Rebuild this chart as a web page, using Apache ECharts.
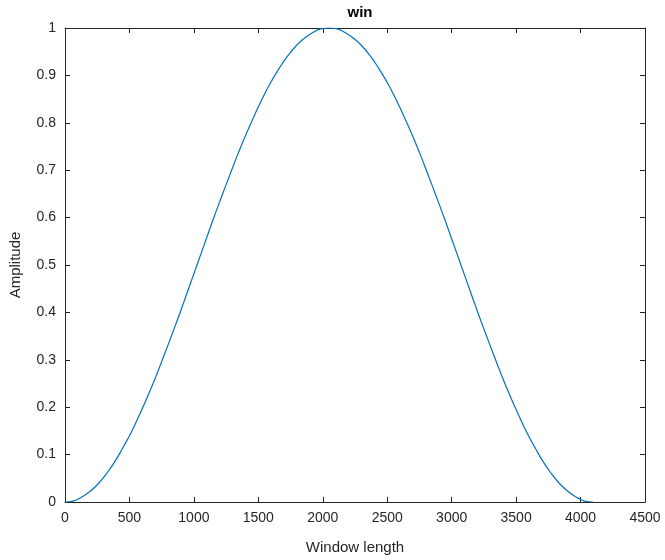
<!DOCTYPE html>
<html>
<head>
<meta charset="utf-8">
<script src="https://cdn.jsdelivr.net/npm/echarts@6/dist/echarts.min.js"></script>
<style>
  html, body { margin: 0; padding: 0; background: #fff; }
  #chart { width: 665px; height: 560px; }
</style>
</head>
<body>
<div id="chart"></div>
<script>
// window samples (every 64 points, rising half then falling half)
const samplePos = [0, 64, 128, 192, 256, 320, 384, 448, 512, 576, 640, 704, 768, 832, 896, 960,
  1024, 1088, 1152, 1216, 1280, 1344, 1408, 1472, 1536, 1600, 1664, 1728, 1792, 1856, 1920, 1984,
  2048, 2112, 2176, 2240, 2304, 2368, 2432, 2496, 2560, 2624, 2688, 2752, 2816, 2880, 2944, 3008,
  3072, 3136, 3200, 3264, 3328, 3392, 3456, 3520, 3584, 3648, 3712, 3776, 3840, 3904, 3968, 4032, 4096];
const amplitude = [0, 0.002, 0.01, 0.022, 0.038, 0.059, 0.084, 0.114, 0.146, 0.183, 0.222, 0.264, 0.309, 0.355, 0.402, 0.451,
  0.5, 0.549, 0.598, 0.645, 0.691, 0.736, 0.778, 0.817, 0.854, 0.887, 0.916, 0.941, 0.962, 0.978, 0.99, 0.998,
  1, 0.998, 0.99, 0.978, 0.962, 0.941, 0.916, 0.887, 0.854, 0.817, 0.778, 0.736, 0.691, 0.645, 0.598, 0.549,
  0.5, 0.451, 0.402, 0.355, 0.309, 0.264, 0.222, 0.183, 0.146, 0.114, 0.084, 0.059, 0.038, 0.022, 0.01, 0.002, 0];
const xTicks = [0, 500, 1000, 1500, 2000, 2500, 3000, 3500, 4000, 4500];
const yTicks = [0, 0.1, 0.2, 0.3, 0.4, 0.5, 0.6, 0.7, 0.8, 0.9, 1];

const axisColor = '#262626';
const font = 'Liberation Sans, Arial, sans-serif';

const lineData = [];
for (let i = 0; i < samplePos.length; i++) {
  lineData.push([samplePos[i], amplitude[i]]);
}

const baseAxis = {
  type: 'value',
  axisLine: { show: true, onZero: false, lineStyle: { color: axisColor, width: 1 } },
  axisTick: { show: true, inside: true, length: 5, lineStyle: { color: axisColor } },
  splitLine: { show: false }
};

const myChart = echarts.init(document.getElementById('chart'));
const option = {
  animation: false,
  title: {
    text: 'win',
    left: 355,
    top: 0,
    textAlign: 'center',
    textStyle: { fontFamily: font, fontSize: 15, fontWeight: 'bold', color: '#000' }
  },
  grid: { left: 65, right: 20, top: 28, bottom: 58 },
  xAxis: [
    Object.assign({}, baseAxis, {
      min: xTicks[0], max: xTicks[xTicks.length - 1], interval: 500,
      position: 'bottom',
      name: 'Window length',
      nameLocation: 'middle',
      nameGap: 38,
      nameTextStyle: { fontFamily: font, fontSize: 15, color: axisColor },
      axisLabel: { fontFamily: font, fontSize: 14, color: axisColor, margin: 9, formatter: (v) => String(v) }
    }),
    Object.assign({}, baseAxis, {
      min: xTicks[0], max: xTicks[xTicks.length - 1], interval: 500,
      position: 'top',
      axisLabel: { show: false }
    })
  ],
  yAxis: [
    Object.assign({}, baseAxis, {
      min: yTicks[0], max: yTicks[yTicks.length - 1], interval: 0.1,
      position: 'left',
      name: 'Amplitude',
      nameLocation: 'middle',
      nameGap: 42,
      nameTextStyle: { fontFamily: font, fontSize: 15, color: axisColor },
      axisLabel: { fontFamily: font, fontSize: 14, color: axisColor, margin: 9 }
    }),
    Object.assign({}, baseAxis, {
      min: yTicks[0], max: yTicks[yTicks.length - 1], interval: 0.1,
      position: 'right',
      axisLabel: { show: false }
    })
  ],
  series: [
    {
      name: 'win',
      type: 'line',
      smooth: true,
      showSymbol: false,
      xAxisIndex: 0,
      yAxisIndex: 0,
      lineStyle: { color: '#0072BD', width: 1.2 },
      data: lineData
    }
  ]
};
myChart.setOption(option);
</script>
</body>
</html>
